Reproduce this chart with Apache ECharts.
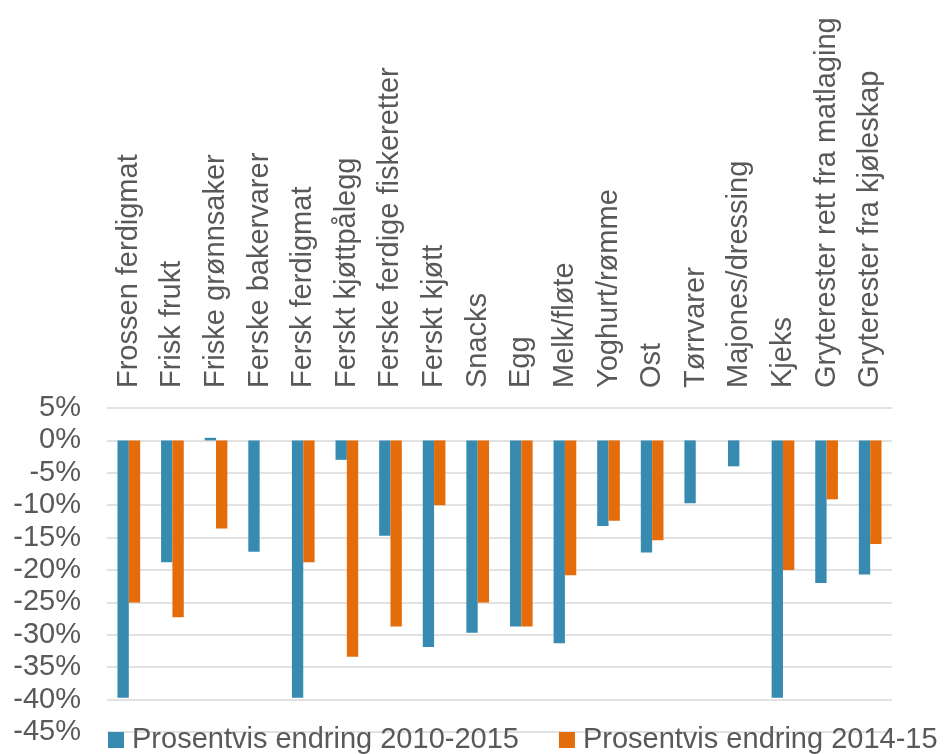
<!DOCTYPE html>
<html>
<head>
<meta charset="utf-8">
<script src="https://cdn.jsdelivr.net/npm/echarts@6/dist/echarts.min.js"></script>
<style>
  html, body { margin: 0; padding: 0; background: #ffffff; }
  #chart { width: 946px; height: 754px; }
</style>
</head>
<body>
<div id="chart"></div>
<script>
// Varegrupper
const categories = [
  'Frossen ferdigmat', 'Frisk frukt', 'Friske grønnsaker', 'Ferske bakervarer',
  'Fersk ferdigmat', 'Ferskt kjøttpålegg', 'Ferske ferdige fiskeretter', 'Ferskt kjøtt',
  'Snacks', 'Egg', 'Melk/fløte', 'Yoghurt/rømme', 'Ost', 'Tørrvarer',
  'Majones/dressing', 'Kjeks', 'Gryterester rett fra matlaging', 'Gryterester fra kjøleskap'
];

// Prosentvis endring 2010-2015
const change2010to2015 = [
  -39.7, -18.8, 0.4, -17.2, -39.7, -3.0, -14.7, -31.9, -29.7,
  -28.7, -31.3, -13.2, -17.3, -9.7, -4.0, -39.7, -22.0, -20.7
];

// Prosentvis endring 2014-15 (null = ingen verdi)
const change2014to15 = [
  -25.0, -27.3, -13.6, null, -18.8, -33.4, -28.7, -10.0, -25.0,
  -28.7, -20.8, -12.4, -15.4, null, null, -20.0, -9.1, -16.0
];

const seriesNames = ['Prosentvis endring 2010-2015', 'Prosentvis endring 2014-15'];

// Y-akse: -45 % til 5 %, steg på 5
const yMin = -45;
const yMax = 5;
const yStep = 5;

const FONT = '"Liberation Sans", Arial, sans-serif';
const TEXT = '#595959';

const chart = echarts.init(document.getElementById('chart'), null, { renderer: 'canvas' });

chart.setOption({
  animation: false,
  backgroundColor: '#ffffff',
  textStyle: { fontFamily: FONT },
  grid: { left: 107, right: 54, top: 408, bottom: 22, containLabel: false },
  legend: {
    data: seriesNames,
    orient: 'horizontal',
    left: 108,
    top: 725,
    width: 1200,
    padding: 0,
    itemWidth: 16,
    itemHeight: 16,
    itemGap: 40,
    icon: 'rect',
    textStyle: {
      fontFamily: FONT, fontSize: 29, color: TEXT, lineHeight: 30,
      padding: [0, 0, 0, 3]
    }
  },
  xAxis: {
    type: 'category',
    position: 'top',
    data: categories,
    axisLine: { show: false },
    axisTick: { show: false },
    splitLine: { show: false },
    axisLabel: {
      interval: 0,
      rotate: 90,
      margin: 20,
      fontFamily: FONT,
      fontSize: 29,
      color: TEXT
    }
  },
  yAxis: {
    type: 'value',
    min: yMin,
    max: yMax,
    interval: yStep,
    axisLine: { show: false },
    axisTick: { show: false },
    splitLine: { lineStyle: { color: '#d9d9d9', width: 1.5 } },
    axisLabel: {
      margin: 26,
      fontFamily: FONT,
      fontSize: 29,
      color: TEXT,
      formatter: '{value}%'
    }
  },
  series: [
    {
      name: seriesNames[0],
      type: 'bar',
      data: change2010to2015,
      barWidth: '26%',
      barGap: '0%',
      itemStyle: { color: '#378BB0' }
    },
    {
      name: seriesNames[1],
      type: 'bar',
      data: change2014to15,
      barWidth: '26%',
      barGap: '0%',
      itemStyle: { color: '#E46C0A' }
    }
  ]
});
</script>
</body>
</html>
